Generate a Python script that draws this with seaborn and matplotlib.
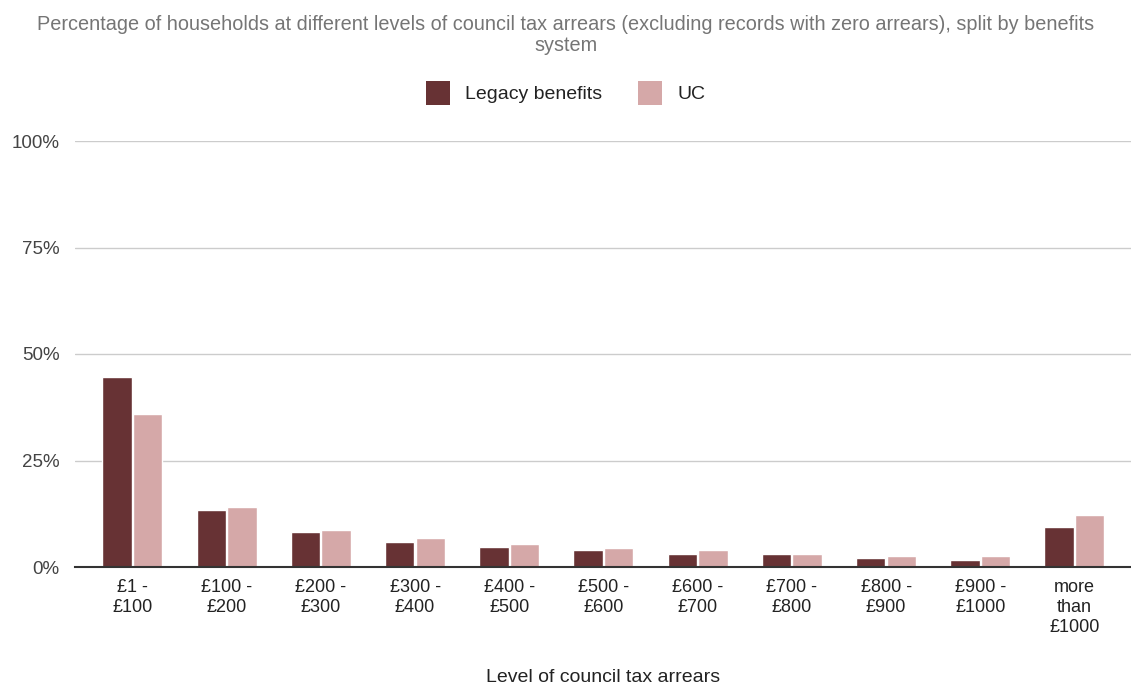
import matplotlib
matplotlib.use("Agg")
import matplotlib.pyplot as plt
import seaborn as sns
import pandas as pd
from matplotlib.patches import Patch

categories = ["£1 -\n£100", "£100 -\n£200", "£200 -\n£300", "£300 -\n£400", "£400 -\n£500",
              "£500 -\n£600", "£600 -\n£700", "£700 -\n£800", "£800 -\n£900", "£900 -\n£1000",
              "more\nthan\n£1000"]
legacy = [44.5, 13.3, 8.1, 5.8, 4.8, 3.9, 3.0, 3.0, 2.0, 1.6, 9.5]
uc = [36.0, 14.2, 8.6, 6.7, 5.3, 4.4, 3.9, 3.0, 2.5, 2.5, 12.3]
series = ["Legacy benefits", "UC"]
colors = ["#673234", "#d5a8a8"]
yticks = [0, 25, 50, 75, 100]

df = pd.DataFrame({
    "cat": categories * 2,
    "val": legacy + uc,
    "series": [series[0]] * len(categories) + [series[1]] * len(categories),
})

sns.set_theme(style="white")
plt.rcParams["font.family"] = ["Liberation Sans", "DejaVu Sans"]

fig = plt.figure(figsize=(11.31, 6.84), dpi=100)
ax = fig.add_axes([75 / 1131, 1 - 567 / 684, 1056 / 1131, (567 - 141) / 684])

sns.barplot(data=df, x="cat", y="val", hue="series", palette=colors, ax=ax,
            width=0.65, gap=0.04, saturation=1, legend=False)

ax.set_ylim(0, 100)
ax.set_xlim(-0.61, 10.6)
ax.set_yticks(yticks)
ax.set_yticklabels([f"{t}%" for t in yticks], fontsize=13.5, color="#444444")
ax.tick_params(axis="x", labelsize=13, labelcolor="#222222", length=0, pad=9)
ax.tick_params(axis="y", length=0, pad=11)
for lab in ax.get_xticklabels():
    lab.set_linespacing(1.22)
ax.grid(axis="y", color="#cccccc", linewidth=1)
ax.set_axisbelow(True)
for s in ["top", "right", "left"]:
    ax.spines[s].set_visible(False)
ax.spines["bottom"].set_color("#333333")
ax.spines["bottom"].set_linewidth(1.5)
ax.spines["bottom"].set_zorder(5)
ax.set_xlabel("Level of council tax arrears", fontsize=14, color="#222222", labelpad=0)
ax.xaxis.set_label_coords((603 - 75) / 1056, -(669 - 567) / 426)
ax.set_ylabel("")

fig.text(0.5, 1 - 35 / 684,
         "Percentage of households at different levels of council tax arrears (excluding records with zero arrears), split by benefits\nsystem",
         ha="center", va="center", fontsize=14.3, color="#757575", linespacing=1.1)

handles = [Patch(facecolor=c, edgecolor="none") for c in colors]
leg = fig.legend(handles, series, loc="center", bbox_to_anchor=(0.5, 1 - 93 / 684),
                 ncol=2, frameon=False, fontsize=14, handlelength=1.25, handleheight=1.5,
                 columnspacing=1.8, handletextpad=0.8)
for t in leg.get_texts():
    t.set_color("#222222")

fig.savefig("out.png", dpi=100)
